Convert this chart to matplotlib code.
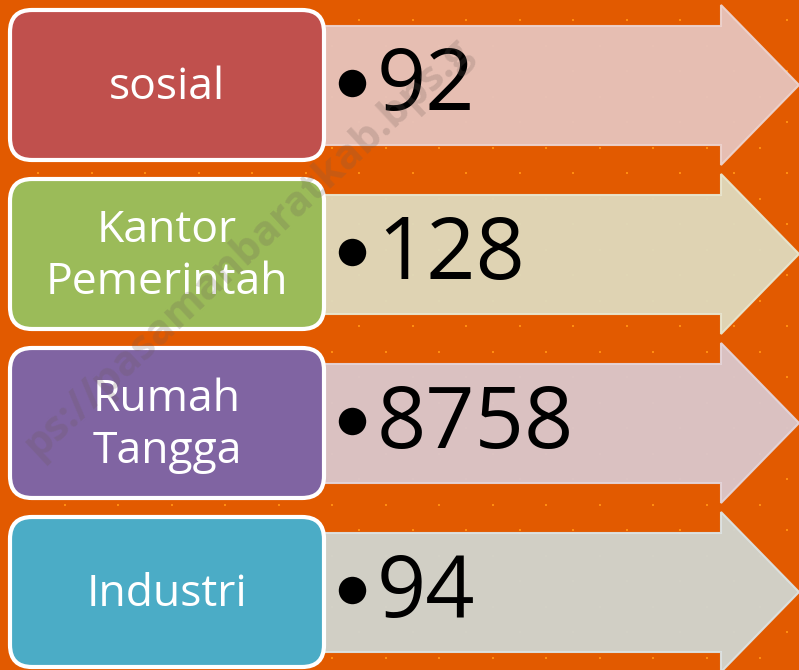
import matplotlib
matplotlib.use("Agg")
import matplotlib.pyplot as plt
from matplotlib.patches import FancyBboxPatch, Polygon
import numpy as np

categories = ["sosial", "Kantor\nPemerintah", "Rumah\nTangga", "Industri"]
values = [92, 128, 8758, 94]
box_colors = ["#C0504D", "#9BBB59", "#8064A2", "#4BACC6"]
arrow_colors = ["#E7C4BD", "#DFDBBE", "#DAC7CD", "#D1D6D1"]
arrow_edges = ["#EDD3CE", "#E8E6CF", "#E4D5DA", "#DCE3E3"]

W, H = 799, 670
fig = plt.figure(figsize=(W / 100, H / 100), dpi=100)
ax = fig.add_axes([0, 0, 1, 1])
ax.set_xlim(0, W)
ax.set_ylim(H, 0)
ax.axis("off")
fig.patch.set_facecolor("#E25A00")

# dotted background pattern
dx, dy = 53.5, 25.5
for r, y in enumerate(np.arange(20, H, dy)):
    off = 0 if r % 2 == 0 else dx / 2
    xs = np.arange(38 + off, W, dx)
    ax.scatter(xs, [y] * len(xs), s=4, marker="s", color="#FF8C10",
               linewidths=0, zorder=1)

step = 169
for i, (cat, val) in enumerate(zip(categories, values)):
    top = 8 + i * step
    # arrow
    shaft_t, shaft_b = top + 18, top + 137
    head_t, head_b = top - 3, top + 157
    mid = top + 77
    pts = [(300, shaft_t), (721, shaft_t), (721, head_t), (799, mid),
           (721, head_b), (721, shaft_b), (300, shaft_b)]
    ax.add_patch(Polygon(pts, closed=True, facecolor=arrow_colors[i],
                         edgecolor=arrow_edges[i], linewidth=1.5,
                         alpha=0.95, zorder=2))
    # box
    ax.add_patch(FancyBboxPatch((10, top + 2), 314, 150,
                                boxstyle="round,pad=0,rounding_size=22",
                                facecolor=box_colors[i], edgecolor="white",
                                linewidth=3, zorder=3))
    ax.text(167, top + 80, cat, color="white", fontsize=32,
            family="Open Sans", ha="center", va="center",
            linespacing=1.22, zorder=4)
    # bullet + value
    ax.scatter([352], [top + 75], s=390, marker="o", color="black",
               linewidths=0, zorder=4)
    ax.text(377, top + 80, str(val), color="black", fontsize=62,
            family="Open Sans", ha="left", va="center", zorder=4)

# faint watermark (only the part that shows inside the picture)
ax.text(248, 248, "ps://pasamanbaratkab.bps.g", rotation=43,
        fontsize=30, family="Open Sans", fontweight="bold",
        color="#6A5A55", alpha=0.22, ha="center", va="center", zorder=5)

fig.savefig("out.png", dpi=100, facecolor=fig.get_facecolor())
